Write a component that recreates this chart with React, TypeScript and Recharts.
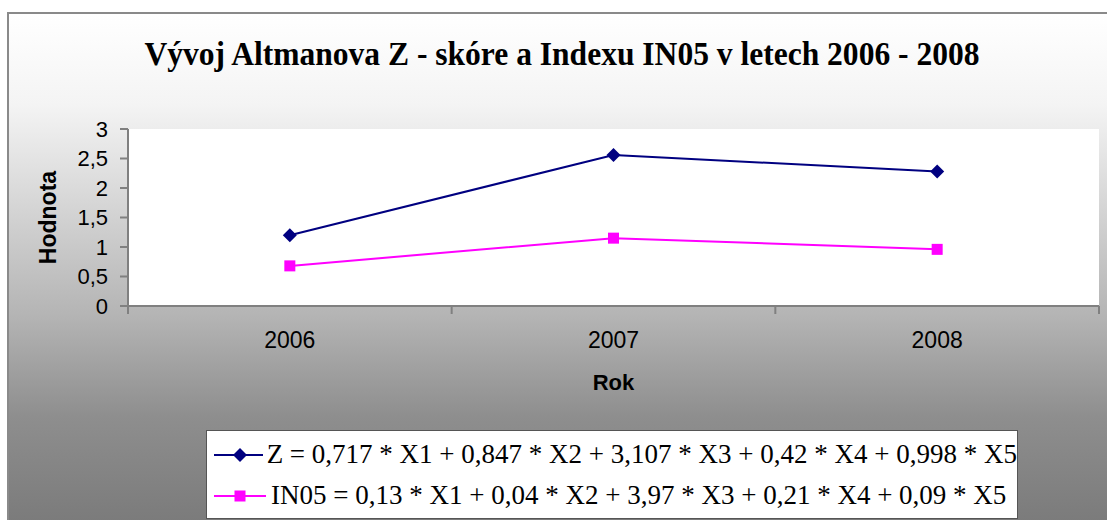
import { CartesianGrid, Legend, Line, LineChart, XAxis, YAxis } from 'recharts'

const years = ['2006', '2007', '2008']
const zScore = [1.2, 2.56, 2.28]
const in05Score = [0.68, 1.15, 0.96]
const yTicks = [0, 0.5, 1, 1.5, 2, 2.5, 3]

const title = 'Vývoj Altmanova Z - skóre a Indexu IN05 v letech 2006 - 2008'
const zLabel = 'Z = 0,717 * X1 + 0,847 * X2 + 3,107 * X3 + 0,42 * X4 + 0,998 * X5'
const inLabel = 'IN05 = 0,13 * X1 + 0,04 * X2 + 3,97 * X3 + 0,21 * X4 + 0,09 * X5'

const data = years.map((year, i) => ({ year, z: zScore[i], in05: in05Score[i] }))

const NAVY = '#000080'
const MAGENTA = '#ff00ff'
const GRAY = '#808080'
const SANS = '"Liberation Sans", Arial, sans-serif'
const SERIF = '"Liberation Serif", "Times New Roman", serif'
const X_TICK_GAP = 26

const fmt = (v: number) => String(v).replace('.', ',')

function Diamond({ cx, cy }: { cx?: number; cy?: number }) {
  if (cx == null || cy == null) return null
  return <polygon points={`${cx},${cy - 7} ${cx + 7},${cy} ${cx},${cy + 7} ${cx - 7},${cy}`} fill={NAVY} />
}

function Square({ cx, cy }: { cx?: number; cy?: number }) {
  if (cx == null || cy == null) return null
  return <rect x={cx - 5.5} y={cy - 5.5} width={11} height={11} fill={MAGENTA} />
}

// category label in the middle, tick marks on the band edges (Excel style)
function YearTick({ x, y, payload, index }: any) {
  const half = payload?.offset ?? 0
  const axisY = y - X_TICK_GAP
  return (
    <g>
      {half > 0 && <line x1={x - half} y1={axisY} x2={x - half} y2={axisY + 8} stroke={GRAY} strokeWidth={2} />}
      {half > 0 && index === years.length - 1 && (
        <line x1={x + half} y1={axisY} x2={x + half} y2={axisY + 8} stroke={GRAY} strokeWidth={2} />
      )}
      <text x={x} y={y} dy="0.71em" textAnchor="middle" fontFamily={SANS} fontSize={23} fill="#000">
        {payload.value}
      </text>
    </g>
  )
}

function YLabel({ viewBox }: any) {
  const cy = viewBox.y + viewBox.height / 2
  const x = 48
  return (
    <text
      x={x}
      y={cy}
      transform={`rotate(-90 ${x} ${cy})`}
      textAnchor="middle"
      dominantBaseline="central"
      fontFamily={SANS}
      fontWeight="bold"
      fontSize={23}
      fill="#000"
    >
      Hodnota
    </text>
  )
}

function LegendBox() {
  const rows = [
    { label: zLabel, color: NAVY, shape: 'diamond' },
    { label: inLabel, color: MAGENTA, shape: 'square' },
  ]
  return (
    <div
      style={{
        background: '#fff',
        border: '1px solid #555',
        boxSizing: 'border-box',
        width: 812,
        height: 89,
        padding: '3px 0 0 6px',
      }}
    >
      {rows.map((r) => (
        <div key={r.label} style={{ display: 'flex', alignItems: 'center', height: 41 }}>
          <svg width={54} height={20} style={{ marginRight: 4 }}>
            <line x1={1} y1={10} x2={53} y2={10} stroke={r.color} strokeWidth={2} />
            {r.shape === 'diamond' ? (
              <polygon points="27,3 34,10 27,17 20,10" fill={r.color} />
            ) : (
              <rect x={21.5} y={4.5} width={11} height={11} fill={r.color} />
            )}
          </svg>
          <span style={{ fontFamily: SERIF, fontSize: 27, color: '#000', whiteSpace: 'nowrap' }}>{r.label}</span>
        </div>
      ))}
    </div>
  )
}

export default function App() {
  return (
    <div style={{ position: 'absolute', left: 0, top: 0, width: 1107, height: 520, overflow: 'hidden', background: '#fff' }}>
      <div
        style={{
          position: 'absolute',
          left: 7,
          top: 12,
          width: 1120,
          height: 530,
          border: '2px solid #8a8a8a',
          background:
            'linear-gradient(to bottom, #ffffff 0%, #f4f4f4 17%, #b4b4b4 57%, #8e8e8e 76%, #777777 100%)',
        }}
      />
      <svg width={1107} height={100} style={{ position: 'absolute', left: 0, top: 0 }}>
        <text
          x={562}
          y={65}
          textAnchor="middle"
          fontFamily={SERIF}
          fontWeight="bold"
          fontSize={34}
          textLength={835}
          lengthAdjust="spacingAndGlyphs"
          fill="#000"
        >
          {title}
        </text>
      </svg>
      <div style={{ position: 'absolute', left: 0, top: 0 }}>
        <LineChart width={1107} height={520} data={data} margin={{ top: 129, right: 8, bottom: 184, left: 68 }}>
          <CartesianGrid horizontal={false} vertical={false} fill="#fff" />
          <XAxis
            dataKey="year"
            scale="band"
            axisLine={{ stroke: GRAY, strokeWidth: 2 }}
            tickLine={false}
            tickSize={0}
            tickMargin={X_TICK_GAP}
            height={30}
            interval={0}
            tick={<YearTick />}
            label={{ value: 'Rok', position: 'bottom', offset: 38, fill: '#000', fontSize: 22, fontWeight: 'bold', fontFamily: SANS }}
          />
          <XAxis xAxisId="top" orientation="top" height={0} tick={false} tickLine={false} axisLine={{ stroke: GRAY, strokeWidth: 2 }} />
          <YAxis
            domain={[0, 3]}
            ticks={yTicks}
            interval={0}
            width={60}
            tickFormatter={fmt}
            axisLine={{ stroke: GRAY, strokeWidth: 2 }}
            tickLine={{ stroke: GRAY, strokeWidth: 2 }}
            tickSize={8}
            tickMargin={12}
            tick={{ fill: '#000', fontSize: 22, fontFamily: SANS }}
            label={<YLabel />}
          />
          <YAxis yAxisId="right" orientation="right" width={0} tick={false} tickLine={false} axisLine={{ stroke: GRAY, strokeWidth: 2 }} />
          <Line dataKey="z" stroke={NAVY} strokeWidth={2} dot={<Diamond />} activeDot={false} isAnimationActive={false} />
          <Line dataKey="in05" stroke={MAGENTA} strokeWidth={2} dot={<Square />} activeDot={false} isAnimationActive={false} />
          <Legend
            layout="vertical"
            align="center"
            verticalAlign="middle"
            content={<LegendBox />}
            wrapperStyle={{ position: 'absolute', left: 206, top: 430, width: 812, height: 89 }}
          />
        </LineChart>
      </div>
    </div>
  )
}
